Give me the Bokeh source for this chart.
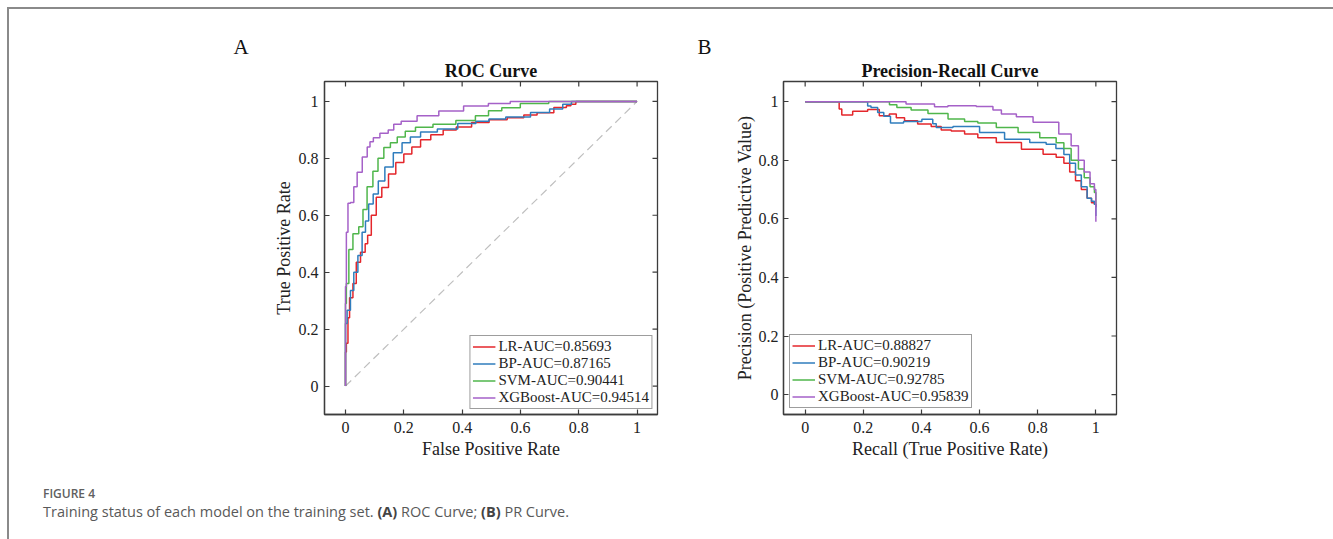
import numpy as np
from bokeh.plotting import figure
from bokeh.models import Range1d, FixedTicker, Title, Div
from bokeh.layouts import row, column
from bokeh.embed import file_html
from bokeh.resources import INLINE

# ---------------- data ----------------
tick_values = [0, 0.2, 0.4, 0.6, 0.8, 1]
tick_labels = ["0", "0.2", "0.4", "0.6", "0.8", "1"]
model_names = ["LR", "BP", "SVM", "XGBoost"]
roc_auc = ["0.85693", "0.87165", "0.90441", "0.94514"]
pr_auc = ["0.88827", "0.90219", "0.92785", "0.95839"]
chance_x = [0, 1]
chance_y = [0, 1]

# ROC curves (False Positive Rate, True Positive Rate)
roc_lr_fpr = [0, 0, 0.006, 0.011, 0.017, 0.034, 0.04, 0.063, 0.072, 0.08, 0.097, 0.114, 0.135, 0.16, 0.185,
              0.215, 0.24, 0.275, 0.31, 0.36, 0.40, 0.465, 0.52, 0.589, 0.634, 0.68, 0.749, 0.766, 0.78, 0.80, 1.0]
roc_lr_tpr = [0, 0.12, 0.15, 0.24, 0.31, 0.36, 0.435, 0.47, 0.50, 0.53, 0.60, 0.663, 0.698, 0.745, 0.785,
              0.815, 0.84, 0.865, 0.883, 0.90, 0.91, 0.926, 0.936, 0.943, 0.952, 0.96, 0.979, 0.985, 0.99, 1.0, 1.0]

roc_bp_fpr = [0, 0, 0.011, 0.023, 0.034, 0.051, 0.063, 0.074, 0.085, 0.105, 0.12, 0.15, 0.178, 0.21, 0.235,
              0.28, 0.35, 0.42, 0.474, 0.51, 0.589, 0.68, 0.72, 0.77, 0.78, 1.0]
roc_bp_tpr = [0, 0.22, 0.266, 0.336, 0.40, 0.459, 0.54, 0.58, 0.64, 0.675, 0.72, 0.77, 0.82, 0.855, 0.875,
              0.893, 0.903, 0.922, 0.93, 0.938, 0.945, 0.961, 0.973, 0.99, 1.0, 1.0]

roc_svm_fpr = [0, 0, 0.006, 0.017, 0.034, 0.057, 0.063, 0.085, 0.103, 0.12, 0.143, 0.165, 0.19, 0.22, 0.26,
               0.34, 0.417, 0.474, 0.507, 0.565, 0.634, 0.76, 1.0]
roc_svm_tpr = [0, 0.29, 0.36, 0.48, 0.535, 0.56, 0.62, 0.70, 0.755, 0.80, 0.838, 0.855, 0.875, 0.895, 0.909,
               0.92, 0.933, 0.95, 0.967, 0.978, 0.993, 1.0, 1.0]

roc_xgb_fpr = [0, 0, 0.006, 0.011, 0.023, 0.034, 0.046, 0.069, 0.08, 0.088, 0.103, 0.133, 0.16, 0.171, 0.211,
               0.28, 0.36, 0.45, 0.53, 0.60, 1.0]
roc_xgb_tpr = [0, 0.35, 0.54, 0.642, 0.645, 0.70, 0.751, 0.805, 0.84, 0.858, 0.872, 0.888, 0.90, 0.92, 0.93,
               0.95, 0.966, 0.984, 0.993, 1.0, 1.0]

# Precision-Recall curves (Recall, Precision)
pr_lr_rec = [0, 0.117, 0.117, 0.135, 0.192, 0.238, 0.272, 0.307, 0.32, 0.364, 0.41, 0.457, 0.479, 0.526,
             0.571, 0.617, 0.698, 0.79, 0.847, 0.88, 0.90, 0.92, 0.94, 0.96, 0.98, 0.99, 1.0, 1.0]
pr_lr_prec = [1.0, 1.0, 0.975, 0.955, 0.967, 0.973, 0.952, 0.958, 0.945, 0.935, 0.924, 0.915, 0.903, 0.90,
              0.89, 0.877, 0.861, 0.838, 0.821, 0.81, 0.79, 0.76, 0.73, 0.70, 0.67, 0.655, 0.65, 0.64]

pr_bp_rec = [0, 0.215, 0.215, 0.238, 0.261, 0.28, 0.307, 0.37, 0.433, 0.445, 0.457, 0.56, 0.64, 0.732, 0.813,
             0.845, 0.88, 0.90, 0.92, 0.94, 0.96, 0.98, 0.99, 1.0, 1.0]
pr_bp_prec = [1.0, 1.0, 0.985, 0.98, 0.963, 0.95, 0.927, 0.932, 0.94, 0.925, 0.912, 0.915, 0.895, 0.872, 0.861,
              0.855, 0.84, 0.82, 0.79, 0.75, 0.71, 0.67, 0.66, 0.65, 0.61]

pr_svm_rec = [0, 0.29, 0.29, 0.341, 0.388, 0.457, 0.526, 0.571, 0.617, 0.698, 0.767, 0.847, 0.88, 0.90, 0.93,
              0.95, 0.97, 0.99, 1.0, 1.0]
pr_svm_prec = [1.0, 1.0, 0.99, 0.98, 0.972, 0.96, 0.941, 0.932, 0.927, 0.912, 0.895, 0.877, 0.86, 0.84, 0.80,
               0.77, 0.74, 0.71, 0.69, 0.65]

pr_xgb_rec = [0, 0.347, 0.347, 0.445, 0.445, 0.537, 0.64, 0.652, 0.698, 0.755, 0.813, 0.845, 0.90, 0.93, 0.95,
              0.97, 0.99, 1.0, 1.0]
pr_xgb_prec = [1.0, 1.0, 0.992, 0.992, 0.983, 0.986, 0.984, 0.972, 0.958, 0.949, 0.93, 0.93, 0.89, 0.85, 0.80,
               0.76, 0.72, 0.70, 0.59]

colors = ["#e4262b", "#2f7dbd", "#4fb64b", "#a561c8"]

SERIF = "Liberation Serif"
AXIS_COLOR = "#3c3c3c"
FRAME = 333
TICK_LEN = 5


def stairs(xs, ys):
    xs = np.asarray(xs, float)
    ys = np.asarray(ys, float)
    xm = (xs[:-1] + xs[1:]) / 2
    px, py = [xs[0]], [ys[0]]
    for i in range(len(xm)):
        px += [xm[i], xm[i], xs[i + 1]]
        py += [ys[i], ys[i + 1], ys[i + 1]]
    return px, py


def make_panel(xr, yr, left, right, xlabel, ylabel, ylab_standoff, tick_standoff_y,
               title, letter, letter_offset):
    p = figure(frame_width=FRAME, frame_height=FRAME,
               min_border_left=left, min_border_right=right,
               min_border_top=72, min_border_bottom=56,
               x_range=Range1d(*xr), y_range=Range1d(*yr),
               title=None,
               output_backend="svg", toolbar_location=None)
    p.background_fill_color = "white"
    p.border_fill_color = "white"
    p.xgrid.visible = False
    p.ygrid.visible = False
    p.outline_line_color = AXIS_COLOR
    p.outline_line_width = 1.3

    overrides = {v: t for v, t in zip(tick_values, tick_labels)}
    for ax in (p.xaxis[0], p.yaxis[0]):
        ax.ticker = FixedTicker(ticks=tick_values)
        ax.major_label_overrides = overrides
        ax.minor_tick_line_color = None
        ax.major_tick_in = TICK_LEN
        ax.major_tick_out = 0
        ax.axis_line_color = AXIS_COLOR
        ax.axis_line_width = 1.3
        ax.major_tick_line_color = AXIS_COLOR
        ax.major_tick_line_width = 1.2
        ax.major_label_text_font = SERIF
        ax.major_label_text_font_size = "16px"
        ax.major_label_text_color = "#222222"
        ax.axis_label_text_font = SERIF
        ax.axis_label_text_font_size = "18px"
        ax.axis_label_text_font_style = "normal"
        ax.axis_label_text_color = "#222222"
    p.xaxis[0].axis_label = xlabel
    p.xaxis[0].major_label_standoff = 7
    p.xaxis[0].axis_label_standoff = 3
    p.yaxis[0].axis_label = ylabel
    p.yaxis[0].major_label_standoff = tick_standoff_y
    p.yaxis[0].axis_label_standoff = ylab_standoff

    # mirrored inward ticks on the top and right edges of the box
    dy = TICK_LEN * (yr[1] - yr[0]) / FRAME
    dx = TICK_LEN * (xr[1] - xr[0]) / FRAME
    tv = np.array(tick_values, float)
    p.segment(x0=tv, y0=np.full_like(tv, yr[1]), x1=tv, y1=np.full_like(tv, yr[1] - dy),
              line_color=AXIS_COLOR, line_width=1.2)
    p.segment(x0=np.full_like(tv, xr[1]), y0=tv, x1=np.full_like(tv, xr[1] - dx), y1=tv,
              line_color=AXIS_COLOR, line_width=1.2)

    p.add_layout(Title(text=title, align="center", text_font=SERIF, text_font_style="bold",
                       text_font_size="18px", text_color="#111111", standoff=2), "above")
    p.add_layout(Title(text=letter, align="left", offset=letter_offset, text_font=SERIF,
                       text_font_style="normal", text_font_size="21px", text_color="#111111",
                       standoff=-2), "above")
    return p


def style_legend(p, location, margin):
    lg = p.legend[0]
    lg.location = location
    lg.margin = margin
    lg.padding = 2
    lg.spacing = 0
    lg.glyph_width = 23
    lg.glyph_height = 17
    lg.label_height = 17
    lg.label_standoff = 3
    lg.label_text_font = SERIF
    lg.label_text_font_size = "15px"
    lg.label_text_color = "#222222"
    lg.border_line_color = AXIS_COLOR
    lg.border_line_width = 1.2
    lg.background_fill_color = "white"
    lg.background_fill_alpha = 1.0


# ---------------- ROC panel ----------------
roc_xr, roc_yr = (-0.072, 1.07), (-0.1, 1.07)
roc = make_panel(roc_xr, roc_yr, 315, 30, "False Positive Rate", "True Positive Rate", 2, 6,
                 "ROC Curve", "A", -91)
roc.line(chance_x, chance_y, line_color="#bfbfbf", line_width=1.2, line_dash="8 5")
roc_sets = [(roc_lr_fpr, roc_lr_tpr), (roc_bp_fpr, roc_bp_tpr),
            (roc_svm_fpr, roc_svm_tpr), (roc_xgb_fpr, roc_xgb_tpr)]
for (xs, ys), name, auc, c in zip(roc_sets, model_names, roc_auc, colors):
    sx, sy = stairs(xs, ys)
    roc.line(sx, sy, line_color=c, line_width=1.5, legend_label=f"{name}-AUC={auc}")
style_legend(roc, "bottom_right", 5)

# ---------------- PR panel ----------------
pr_xr, pr_yr = (-0.0745, 1.071), (-0.068, 1.069)
pr = make_panel(pr_xr, pr_yr, 96, 215, "Recall (True Positive Rate)",
                "Precision (Positive Predictive Value)", 1, 5,
                "Precision-Recall Curve", "B", -86)
pr_sets = [(pr_lr_rec, pr_lr_prec), (pr_bp_rec, pr_bp_prec),
           (pr_svm_rec, pr_svm_prec), (pr_xgb_rec, pr_xgb_prec)]
for (xs, ys), name, auc, c in zip(pr_sets, model_names, pr_auc, colors):
    sx, sy = stairs(xs, ys)
    pr.line(sx, sy, line_color=c, line_width=1.5, legend_label=f"{name}-AUC={auc}")
style_legend(pr, "bottom_left", 6)

# ---------------- caption ----------------
caption_html = (
    "<div style=\"font-family:'Open Sans',sans-serif;padding-left:29px;padding-top:11px;\">"
    "<div style='font-size:12px;font-weight:600;color:#606060;line-height:16px;'>FIGURE 4</div>"
    "<div style='font-size:14.5px;color:#595959;line-height:19px;'>"
    "Training status of each model on the training set. <b style='color:#444'>(A)</b> ROC Curve; "
    "<b style='color:#444'>(B)</b> PR Curve.</div></div>"
)
caption = Div(text=caption_html, width=1322, height=60)

layout = column(row(roc, pr), caption,
                styles={"border-left": "2px solid #8a8a8a", "border-top": "2px solid #8a8a8a",
                        "border-right": "2px solid #8a8a8a"},
                margin=(7, 0, 0, 7))

open("out.html", "w").write(file_html(layout, INLINE))
